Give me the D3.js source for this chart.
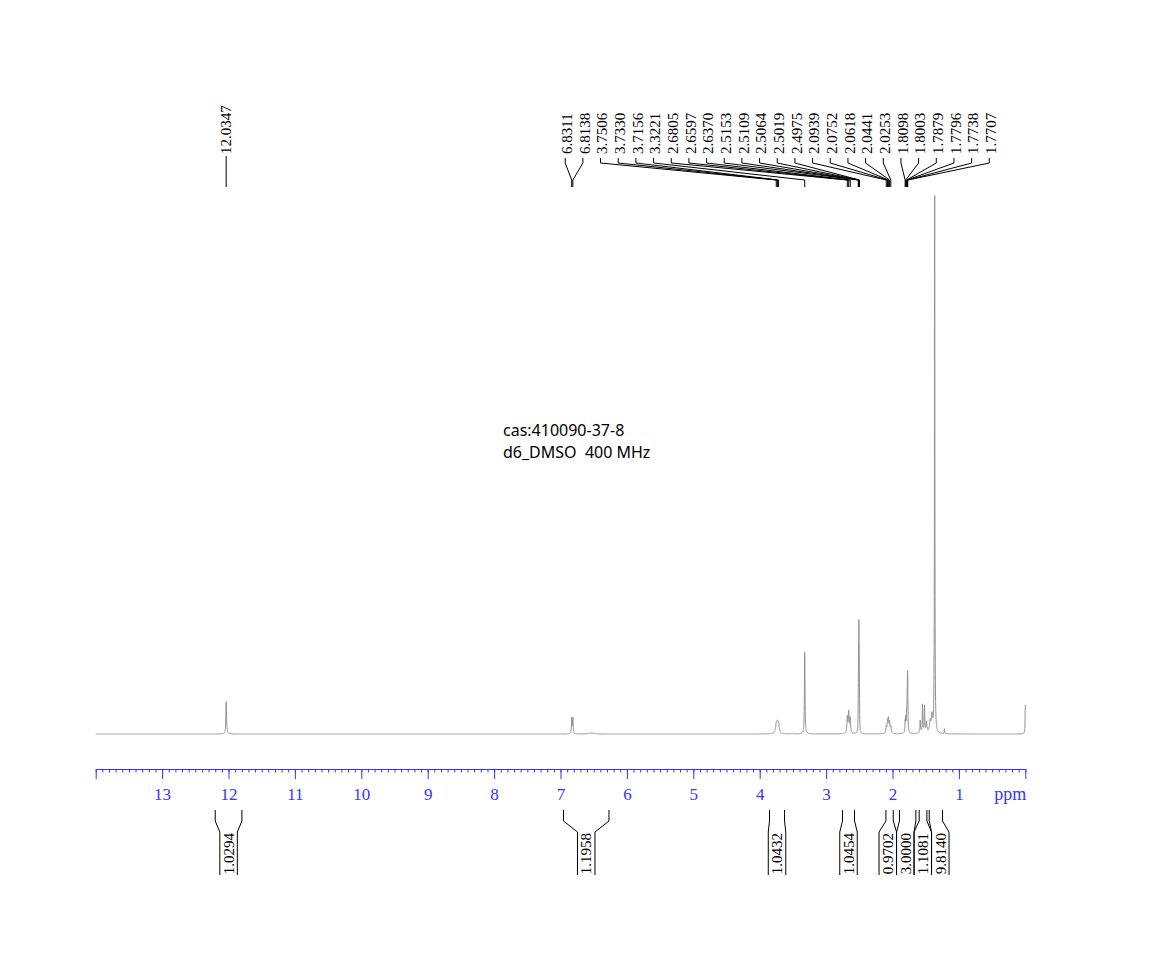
<!DOCTYPE html>
<html><head><meta charset="utf-8">
<script src="https://cdn.jsdelivr.net/npm/d3@7"></script>
<style>body{margin:0;background:#fff}svg{display:block}</style>
</head><body>
<svg id="c" width="1173" height="953"></svg>
<script>
// ---- data ----
const peakCenters = [12.0347, 6.8311, 6.8138, 6.53, 3.7506, 3.7330, 3.7156, 3.51, 3.3221,
  2.6805, 2.6597, 2.6370, 2.5153, 2.5109, 2.5064, 2.5019, 2.4975,
  2.0939, 2.0752, 2.0618, 2.0441, 2.0253,
  1.8098, 1.8003, 1.7879, 1.7796, 1.7738, 1.7707,
  1.583, 1.548, 1.518, 1.488, 1.432, 1.405, 1.365, 1.217, 0.0];
const peakHeights = [6.0, 2.9, 2.9, 0.2, 1.6, 1.6, 1.6, 0.12, 15.2,
  3.0, 3.9, 2.8, 5.2, 10.4, 15.6, 10.4, 5.2,
  1.2, 2.0, 2.4, 2.0, 1.2,
  2.0, 2.5, 3.0, 4.5, 6.0, 6.0,
  2.4, 5.3, 5.0, 2.0, 2.2, 3.0, 100, 0.9, 5.4];
const peakWidths = [0.006, 0.005, 0.005, 0.04, 0.012, 0.012, 0.012, 0.01, 0.005,
  0.007, 0.007, 0.007, 0.0025, 0.0025, 0.0025, 0.0025, 0.0025,
  0.007, 0.007, 0.007, 0.007, 0.007,
  0.004, 0.004, 0.004, 0.004, 0.004, 0.004,
  0.006, 0.005, 0.005, 0.008, 0.012, 0.01, 0.0035, 0.003, 0.004];

const peakLabelsGroup1 = ["12.0347"];
const peakLabelsGroup2 = ["6.8311", "6.8138", "3.7506", "3.7330", "3.7156", "3.3221",
  "2.6805", "2.6597", "2.6370", "2.5153", "2.5109", "2.5064", "2.5019", "2.4975",
  "2.0939", "2.0752", "2.0618", "2.0441", "2.0253",
  "1.8098", "1.8003", "1.7879", "1.7796", "1.7738", "1.7707"];

const integralFrom = [12.20, 6.955, 3.852, 2.753, 2.099, 1.895, 1.598, 1.447];
const integralTo   = [11.798, 6.27, 3.626, 2.572, 1.989, 1.648, 1.482, 1.247];
const integralValues = ["1.0294", "1.1958", "1.0432", "1.0454", "0.9702", "3.0000", "1.1081", "9.8140"];

const axisMajorTicks = [0,1,2,3,4,5,6,7,8,9,10,11,12,13,14];
const axisUnit = "ppm";
const titleLines = ["cas:410090-37-8", "d6_DMSO  400 MHz"];

// ---- setup ----
const svg = d3.select("#c");
const blue = "#3535ff";
const serif = "'Liberation Serif', 'Times New Roman', serif";
const x = d3.scaleLinear().domain([14, 0]).range([95.7, 1025.3]);
const y = d3.scaleLinear().domain([0, 100]).range([734, 197]);

// spectrum as sum of Lorentzian lines
let ppmSamples = d3.range(0, 14000.5, 1).map(i => 14 - i / 1000);
ppmSamples = ppmSamples.concat(peakCenters).filter(p => p >= 0 && p <= 14);
ppmSamples.sort((a, b) => b - a);
const spec = ppmSamples.map(p => {
  let v = 0;
  for (let k = 0; k < peakCenters.length; k++) {
    const d = p - peakCenters[k], w = peakWidths[k];
    v += peakHeights[k] * w * w / (d * d + w * w);
  }
  return [p, v];
});
svg.append("path")
  .attr("d", d3.line().x(d => x(d[0])).y(d => y(d[1]))(spec))
  .attr("fill", "none").attr("stroke", "#909090").attr("stroke-width", 1);

// axis
const axisY = 769;
const minorVals = d3.range(0, 141).map(i => i / 10);
svg.append("g").attr("transform", `translate(0,${axisY})`)
  .call(d3.axisBottom(x).tickValues(minorVals).tickSize(3.5).tickSizeOuter(0).tickFormat(""))
  .call(g => g.selectAll("line,path").attr("stroke", blue));
svg.append("g").attr("transform", `translate(0,${axisY})`)
  .call(d3.axisBottom(x).tickValues(axisMajorTicks).tickSize(10).tickSizeOuter(0).tickPadding(9)
    .tickFormat(d => (d > 0 && d < 14) ? d : ""))
  .call(g => g.select(".domain").remove())
  .call(g => g.selectAll("line").attr("stroke", blue))
  .call(g => g.selectAll("text").attr("fill", blue).attr("font-family", serif).attr("font-size", 17));
svg.append("text").attr("x", x(0) + 1).attr("y", 800).attr("text-anchor", "end")
  .attr("font-family", serif).attr("font-size", 18).attr("fill", blue).text(axisUnit);

// title text
svg.append("g").selectAll("text").data(titleLines).join("text")
  .attr("x", 503).attr("y", (d, i) => 436 + i * 22)
  .attr("font-family", "'Noto Sans', sans-serif").attr("font-size", 16)
  .style("white-space", "pre").attr("fill", "#000").text(d => d);

// peak labels layout: each group laid out evenly from its first peak
const gap = 17.67;
const lab = [];
[peakLabelsGroup1, peakLabelsGroup2].forEach(grp => {
  const start = x(+grp[0]) - (grp.length > 1 ? 5 : 0);
  grp.forEach((s, i) => lab.push({ s, px: x(+s), lx: start + i * gap }));
});

const lg = svg.append("g");
lg.selectAll("path").data(lab).join("path")
  .attr("d", l => l.lx === l.px ? `M${l.px},156V187` : `M${l.lx - 1.5},158V163L${l.px},180V187`)
  .attr("fill", "none").attr("stroke", "#000").attr("stroke-width", 1);
lg.selectAll("text").data(lab).join("text")
  .attr("transform", l => `translate(${l.lx},154) rotate(-90)`)
  .attr("dy", "0.35em").attr("font-family", serif).attr("font-size", 15)
  .attr("fill", "#000").text(l => l.s);

// integrals
const boxW = 17.5;
let ints = integralValues.map((v, i) => ({ v, a: x(integralFrom[i]), b: x(integralTo[i]) }));
ints.forEach(d => d.c = (d.a + d.b) / 2);
let groups = ints.map(d => [d]);
let changed = true;
function place(g) {
  const m = d3.mean(g, d => d.c);
  g.forEach((d, i) => d.t = m - (g.length - 1) / 2 * boxW + i * boxW);
}
groups.forEach(place);
while (changed) {
  changed = false;
  for (let i = 0; i < groups.length - 1; i++) {
    const A = groups[i], B = groups[i + 1];
    if (B[0].t - A[A.length - 1].t < boxW) {
      groups.splice(i, 2, A.concat(B)); place(groups[i]); changed = true; break;
    }
  }
}
const ig = svg.append("g");
ig.selectAll("path").data(ints).join("path")
  .attr("d", d => `M${d.a},810V821L${d.t - boxW / 2},832V875M${d.b},810V821L${d.t + boxW / 2},832V875`)
  .attr("fill", "none").attr("stroke", "#000").attr("stroke-width", 1);
ig.selectAll("text").data(ints).join("text")
  .attr("transform", d => `translate(${d.t},853.5) rotate(-90)`)
  .attr("dy", "0.35em").attr("text-anchor", "middle")
  .attr("font-family", serif).attr("font-size", 15).attr("fill", "#000").text(d => d.v);
</script>
</body></html>
